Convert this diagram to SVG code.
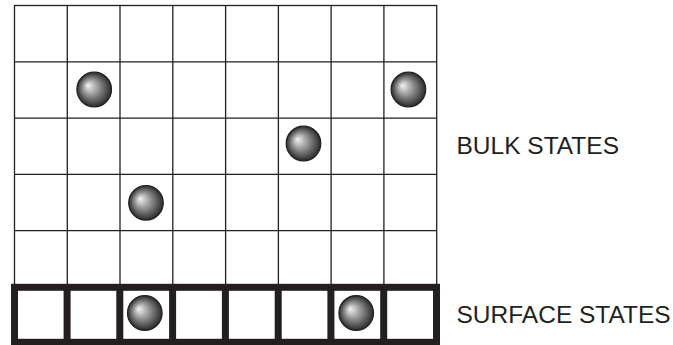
<svg xmlns="http://www.w3.org/2000/svg" width="673" height="345" viewBox="0 0 673 345">
<style>
.thin{stroke:#231f20;stroke-width:1.3;fill:none}
.thick{stroke:#231f20;stroke-width:7;fill:none}
.ball{fill:url(#g);stroke:#231f20;stroke-width:1.2}
.lbl{font-family:"Liberation Sans",Arial,sans-serif;font-size:24.5px;fill:#231f20}
</style>
<defs>
<radialGradient id="g" cx="0.5" cy="0.5" r="0.5" fx="0.32" fy="0.38">
<stop offset="0" stop-color="#f4f4f4"/>
<stop offset="0.45" stop-color="#969696"/>
<stop offset="1" stop-color="#2a2a2a"/>
</radialGradient>
</defs>
<g id="bulk-grid">
<rect class="thin" x="14.5" y="5.5" width="422.2" height="281.5"/>
<path class="thin" d="M67.3 5.5V287M120 5.5V287M172.8 5.5V287M225.6 5.5V287M278.4 5.5V287M331.1 5.5V287M383.9 5.5V287M14.5 61.8H436.7M14.5 118.1H436.7M14.5 174.4H436.7M14.5 230.7H436.7"/>
</g>
<g id="surface-row">
<rect class="thick" x="14.5" y="287.3" width="422" height="55"/>
<path class="thick" d="M67.1 287.3V342.3M119.8 287.3V342.3M172.6 287.3V342.3M225.4 287.3V342.3M278.2 287.3V342.3M330.9 287.3V342.3M383.7 287.3V342.3"/>
</g>
<g id="bulk-balls">
<circle class="ball" cx="94.2" cy="89.5" r="17.3"/>
<circle class="ball" cx="408.4" cy="89.5" r="17.3"/>
<circle class="ball" cx="303.5" cy="143.5" r="17.3"/>
<circle class="ball" cx="146" cy="202.8" r="17.3"/>
</g>
<g id="surface-balls">
<circle class="ball" cx="144.8" cy="313" r="17.3"/>
<circle class="ball" cx="356.2" cy="313" r="17.3"/>
</g>
<g id="labels">
<text class="lbl" x="456.5" y="154">BULK STATES</text>
<text class="lbl" x="456.5" y="322.7">SURFACE STATES</text>
</g>
</svg>
